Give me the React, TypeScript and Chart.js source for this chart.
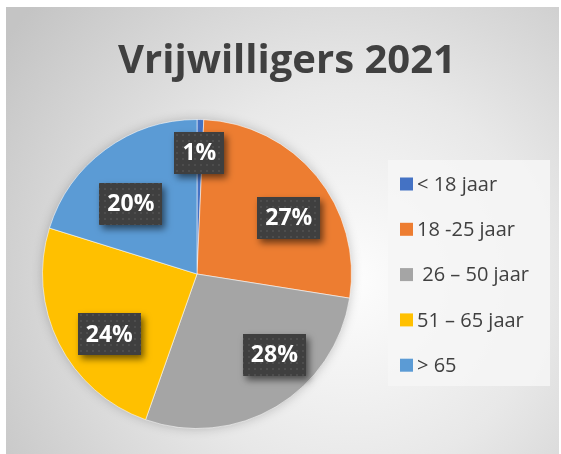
import React, { useEffect, useRef } from "react";
import { Chart, registerables } from "chart.js";
Chart.register(...registerables);

const titleText = "Vrijwilligers 2021";
const categories = ["< 18 jaar", "18 -25 jaar", " 26 – 50 jaar", "51 – 65 jaar", "> 65"];
const values = [0.7, 26.8, 27.9, 24.4, 20.2];
const colors = ["#4472C4", "#ED7D31", "#A5A5A5", "#FFC000", "#5B9BD5"];

// label nudges (px) relative to the mid-angle anchor, mimicking Excel "best fit"
const labelNudge = [[0, -13], [8, 12], [22, -12], [9, 12], [-2, 17]];

const FONT = "'Open Sans', 'Noto Sans', sans-serif";
const W = 561;
const H = 454;

function makeDotPattern(ctx: CanvasRenderingContext2D) {
  const c = document.createElement("canvas");
  c.width = 6;
  c.height = 6;
  const g = c.getContext("2d")!;
  g.fillStyle = "#3f3f3f";
  g.fillRect(0, 0, 6, 6);
  g.fillStyle = "#4d4d4d";
  g.fillRect(2, 2, 2, 2);
  return ctx.createPattern(c, "repeat");
}

const framePlugin = {
  id: "frame",
  beforeDraw(chart: any) {
    const ctx: CanvasRenderingContext2D = chart.ctx;
    ctx.save();
    ctx.fillStyle = "#ffffff";
    ctx.fillRect(0, 0, W, H);
    const grad = ctx.createRadialGradient(350, 280, 10, 350, 280, 420);
    grad.addColorStop(0, "#fcfcfc");
    grad.addColorStop(0.45, "#e8e8e8");
    grad.addColorStop(1, "#c4c4c4");
    ctx.fillStyle = grad;
    ctx.fillRect(6, 7, 553, 447);
    // legend box
    ctx.fillStyle = "rgba(246,246,246,0.85)";
    ctx.fillRect(388, 160, 162, 226);
    // title
    ctx.fillStyle = "#404040";
    ctx.font = `bold 40px ${FONT}`;
    ctx.textAlign = "center";
    ctx.textBaseline = "middle";
    ctx.fillText(titleText, 287, 62);
    // legend items
    const labels: string[] = chart.data.labels;
    const bg: string[] = chart.data.datasets[0].backgroundColor;
    ctx.font = `20px ${FONT}`;
    ctx.textAlign = "left";
    labels.forEach((l, i) => {
      const y = 184 + i * 45.3;
      ctx.fillStyle = bg[i];
      ctx.fillRect(400, y - 6.5, 13, 13);
      ctx.fillStyle = "#404040";
      ctx.fillText(l, 417, y + 1);
    });
    ctx.restore();
  },
  beforeDatasetsDraw(chart: any) {
    const ctx: CanvasRenderingContext2D = chart.ctx;
    const arc = chart.getDatasetMeta(0).data[0];
    if (!arc) return;
    ctx.save();
    ctx.shadowColor = "rgba(0,0,0,0.25)";
    ctx.shadowBlur = 12;
    ctx.fillStyle = "#bdbdbd";
    ctx.beginPath();
    ctx.arc(arc.x, arc.y, arc.outerRadius - 1, 0, Math.PI * 2);
    ctx.fill();
    ctx.restore();
  },
  afterDatasetsDraw(chart: any) {
    const ctx: CanvasRenderingContext2D = chart.ctx;
    const meta = chart.getDatasetMeta(0);
    const data: number[] = chart.data.datasets[0].data;
    const total = data.reduce((a, b) => a + b, 0);
    const pattern = makeDotPattern(ctx);
    meta.data.forEach((arc: any, i: number) => {
      const mid = (arc.startAngle + arc.endAngle) / 2;
      const r = arc.outerRadius * 0.7;
      const x = arc.x + Math.cos(mid) * r + labelNudge[i][0];
      const y = arc.y + Math.sin(mid) * r + labelNudge[i][1];
      const text = Math.round((data[i] / total) * 100) + "%";
      ctx.save();
      ctx.font = `bold 23px ${FONT}`;
      const tw = ctx.measureText(text).width;
      const bw = tw + 16;
      const bh = 42;
      ctx.shadowColor = "rgba(0,0,0,0.55)";
      ctx.shadowBlur = 7;
      ctx.shadowOffsetX = 3;
      ctx.shadowOffsetY = 4;
      ctx.fillStyle = pattern || "#404040";
      ctx.fillRect(Math.round(x - bw / 2), Math.round(y - bh / 2), Math.round(bw), bh);
      ctx.restore();
      ctx.save();
      ctx.font = `bold 23px ${FONT}`;
      ctx.fillStyle = "#ffffff";
      ctx.textAlign = "center";
      ctx.textBaseline = "middle";
      ctx.fillText(text, x, y + 1);
      ctx.restore();
    });
  },
};

export default function App() {
  const ref = useRef<HTMLCanvasElement>(null);
  useEffect(() => {
    if (!ref.current) return;
    const chart = new Chart(ref.current, {
      type: "pie",
      data: {
        labels: categories,
        datasets: [
          {
            data: values,
            backgroundColor: colors,
            borderColor: "rgba(255,255,255,0.55)",
            borderWidth: 1,
          },
        ],
      },
      options: {
        responsive: false,
        animation: false,
        layout: { padding: { left: 42, right: W - 352, top: 119, bottom: H - 429 } },
        plugins: {
          legend: { display: false },
          title: { display: false },
          tooltip: { enabled: false },
        },
      },
      plugins: [framePlugin],
    });
    return () => chart.destroy();
  }, []);
  return (
    <div style={{ position: "absolute", left: 0, top: 0, width: W, height: H }}>
      <canvas ref={ref} width={W} height={H} style={{ display: "block" }} />
    </div>
  );
}
